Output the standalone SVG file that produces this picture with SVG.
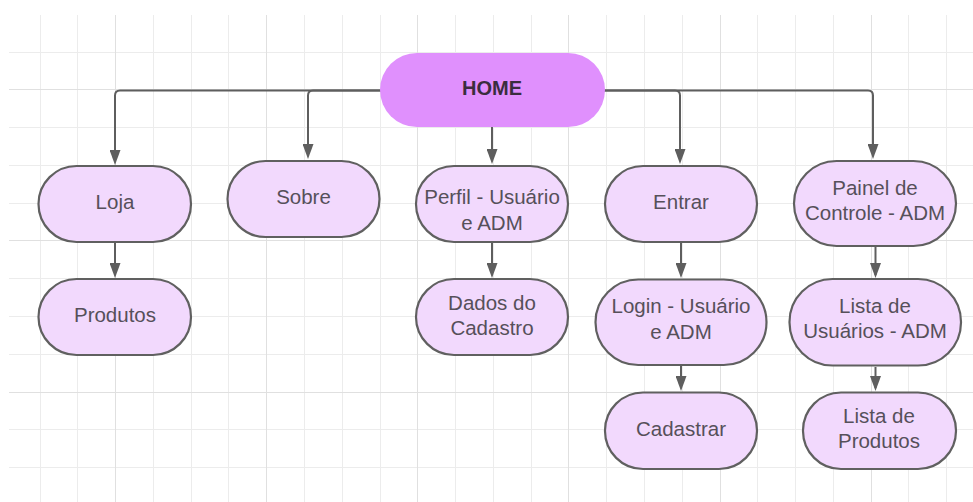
<svg xmlns="http://www.w3.org/2000/svg" width="973" height="502" viewBox="0 0 973 502">
  <defs>
    <style>
      .grid { stroke: #ececec; stroke-width: 1; fill: none; }
      .grid-major { stroke: #e0e0e0; stroke-width: 1; fill: none; }
      .node rect { fill: #f2d9fd; stroke: #606060; stroke-width: 2.2; }
      .node text { font-family: "Liberation Sans", Arial, sans-serif; font-size: 20.5px; fill: #56505a; text-anchor: middle; }
      #home rect { fill: #e090fd; stroke: none; }
      #home text { font-weight: bold; font-size: 20px; fill: #3a2d3e; }
      .edge { fill: none; stroke: #5e5e5e; stroke-width: 2; marker-end: url(#arrow); }
    </style>
    <marker id="arrow" markerUnits="userSpaceOnUse" markerWidth="15" markerHeight="11" viewBox="0 0 15 11" refX="12" refY="5.5" orient="auto">
      <path d="M0,0 L15,5.5 L0,11 Z" fill="#5e5e5e"/>
    </marker>
  </defs>

  <rect width="973" height="502" fill="#ffffff"/>

  <!-- background grid -->
  <g id="grid">
    <path class="grid" d="M40.5,15V502 M77.5,15V502 M153.5,15V502 M191.5,15V502 M228.5,15V502 M304.5,15V502 M342.5,15V502 M380.5,15V502 M455.5,15V502 M493.5,15V502 M531.5,15V502 M606.5,15V502 M644.5,15V502 M682.5,15V502 M757.5,15V502 M795.5,15V502 M833.5,15V502 M908.5,15V502 M946.5,15V502
      M9,52.5H973 M9,127.5H973 M9,165.5H973 M9,203.5H973 M9,278.5H973 M9,316.5H973 M9,354.5H973 M9,429.5H973 M9,467.5H973"/>
    <path class="grid-major" d="M115.5,15V502 M266.5,15V502 M417.5,15V502 M568.5,15V502 M720.5,15V502 M871.5,15V502
      M9,89.5H973 M9,240.5H973 M9,392.5H973"/>
  </g>

  <!-- connectors -->
  <g id="connectors">
    <path class="edge" d="M381,90.5 H120 Q115,90.5 115,95.5 V162"/>
    <path class="edge" d="M381,90.5 H313 Q308,90.5 308,95.5 V156"/>
    <path class="edge" d="M492,127 V161"/>
    <path class="edge" d="M604,90.5 H675 Q680,90.5 680,95.5 V161"/>
    <path class="edge" d="M604,90.5 H868 Q873,90.5 873,95.5 V156"/>
    <path class="edge" d="M115,243 V275"/>
    <path class="edge" d="M492,243 V275"/>
    <path class="edge" d="M681,243 V275"/>
    <path class="edge" d="M681,366 V388"/>
    <path class="edge" d="M875.5,247 V275"/>
    <path class="edge" d="M875.5,367 V388"/>
  </g>

  <!-- nodes -->
  <g id="home" class="node">
    <rect x="380" y="53" width="225" height="74" rx="37"/>
    <text x="492" y="95">HOME</text>
  </g>
  <g id="loja" class="node">
    <rect x="38.5" y="166" width="152.5" height="76" rx="38"/>
    <text x="115" y="209">Loja</text>
  </g>
  <g id="produtos" class="node">
    <rect x="38.5" y="279" width="152.5" height="76" rx="38"/>
    <text x="115" y="322">Produtos</text>
  </g>
  <g id="sobre" class="node">
    <rect x="227.5" y="161" width="152" height="76" rx="38"/>
    <text x="303.5" y="204">Sobre</text>
  </g>
  <g id="perfil" class="node">
    <rect x="416" y="166" width="152" height="76" rx="38"/>
    <text x="492" y="204">Perfil - Usuário</text>
    <text x="492" y="230">e ADM</text>
  </g>
  <g id="dados-cadastro" class="node">
    <rect x="416" y="279" width="152" height="76" rx="38"/>
    <text x="492" y="310">Dados do</text>
    <text x="492" y="335">Cadastro</text>
  </g>
  <g id="entrar" class="node">
    <rect x="605" y="166" width="152" height="76" rx="38"/>
    <text x="681" y="209">Entrar</text>
  </g>
  <g id="login" class="node">
    <rect x="595.5" y="279.5" width="171" height="85.5" rx="42.75"/>
    <text x="681" y="313">Login - Usuário</text>
    <text x="681" y="338.5">e ADM</text>
  </g>
  <g id="cadastrar" class="node">
    <rect x="605" y="392.5" width="152" height="76.5" rx="38"/>
    <text x="681" y="436">Cadastrar</text>
  </g>
  <g id="painel" class="node">
    <rect x="794" y="161" width="162" height="85" rx="42.5"/>
    <text x="875" y="195">Painel de</text>
    <text x="875" y="220">Controle - ADM</text>
  </g>
  <g id="lista-usuarios" class="node">
    <rect x="789.5" y="279" width="171.5" height="86.5" rx="43"/>
    <text x="875" y="312.5">Lista de</text>
    <text x="875" y="338">Usuários - ADM</text>
  </g>
  <g id="lista-produtos" class="node">
    <rect x="803" y="392.5" width="153" height="76.5" rx="38"/>
    <text x="879" y="423">Lista de</text>
    <text x="879" y="448">Produtos</text>
  </g>
</svg>
